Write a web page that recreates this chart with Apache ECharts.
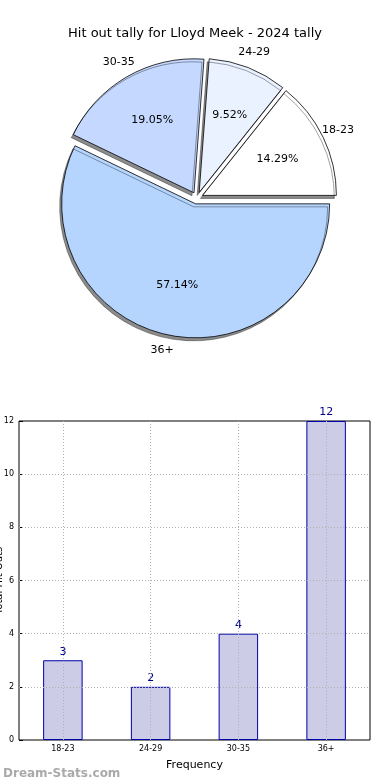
<!DOCTYPE html>
<html><head><meta charset="utf-8">
<script src="https://cdn.jsdelivr.net/npm/echarts@6/dist/echarts.min.js"></script>
<style>html,body{margin:0;padding:0;background:#fff}#c{width:390px;height:780px}</style>
</head><body><div id="c"></div>
<script>
const categories = ['18-23', '24-29', '30-35', '36+'];
const values = [3, 2, 4, 12];
const pieColors = ['#ffffff', '#eaf2ff', '#c5d8ff', '#b5d5ff'];
const yTicks = [0, 2, 4, 6, 8, 10, 12];

const chart = echarts.init(document.getElementById('c'), null, {renderer: 'canvas'});
const F = 'DejaVu Sans';
const pieCenter = [197, 198];
const R = 134;
const pieData = categories.map((c, i) => ({name: c, value: values[i], selected: true, itemStyle: {color: pieColors[i]}}));
const pieBase = {
  type: 'pie', center: pieCenter, startAngle: 0, clockwise: false,
  selectedMode: 'multiple', selectedOffset: 6, animation: false, silent: true,
  avoidLabelOverlap: false, labelLine: {show: false}
};
option = {
  animation: false,
  title: [
    {text: 'Hit out tally for Lloyd Meek - 2024 tally', left: 'center', top: 22,
     textStyle: {fontFamily: F, fontSize: 13, fontWeight: 'normal', color: '#000'}},
    {text: 'Dream-Stats.com', left: -2, top: 763,
     textStyle: {fontFamily: F, fontSize: 12, fontWeight: 'bold', color: '#aaaaaa'}}
  ],
  grid: {left: 19, right: 20, top: 421, bottom: 40, show: true, borderColor: '#000', borderWidth: 1,
         containLabel: false, outerBoundsMode: 'none'},
  xAxis: {
    type: 'category', data: categories, name: 'Frequency', nameLocation: 'middle', nameGap: 20,
    nameTextStyle: {fontFamily: F, fontSize: 11, color: '#000'},
    axisLine: {show: false}, axisTick: {show: false},
    axisLabel: {fontFamily: F, fontSize: 8, color: '#000', margin: 5},
    splitLine: {show: false}
  },
  yAxis: {
    type: 'value', min: 0, max: 12, interval: 2, name: 'Total Hit Outs', nameLocation: 'middle', nameGap: 15,
    nameMoveOverlap: false,
    nameTextStyle: {fontFamily: F, fontSize: 10, color: '#000'},
    axisLine: {show: false}, axisTick: {show: true, inside: true, length: 4, lineStyle: {color: '#000'}},
    axisLabel: {fontFamily: F, fontSize: 8, color: '#000', margin: 5},
    splitLine: {show: false}
  },
  series: [
    Object.assign({}, pieBase, {
      radius: [0, R], data: pieData, label: {show: false},
      itemStyle: {borderColor: '#000', borderWidth: 0.8, shadowBlur: 0, shadowOffsetX: -2, shadowOffsetY: 3, shadowColor: 'rgba(0,0,0,0.45)'}
    }),
    Object.assign({}, pieBase, {
      radius: [R * 0.2, R], z: 3,
      data: pieData.map(d => Object.assign({}, d, {itemStyle: {color: 'rgba(0,0,0,0)'}})),
      label: {show: true, position: 'inside', formatter: '{d}%', fontFamily: F, fontSize: 11, color: '#000'}
    }),
    Object.assign({}, pieBase, {
      radius: [R, R * 1.2], z: 3,
      data: pieData.map(d => Object.assign({}, d, {itemStyle: {color: 'rgba(0,0,0,0)'}})),
      label: {show: true, position: 'inside', formatter: '{b}', fontFamily: F, fontSize: 11, color: '#000'}
    }),
    {
      type: 'bar', data: values, barWidth: '45%',
      itemStyle: {color: '#ccccE6', borderColor: '#0000aa', borderWidth: 1},
      label: {show: true, position: 'top', fontFamily: F, fontSize: 11, color: '#00008b', distance: 3},
      markLine: {
        silent: true, symbol: 'none', label: {show: false},
        lineStyle: {color: '#b0b0b0', type: [1, 2], width: 1},
        data: categories.map(c => ({xAxis: c})).concat(yTicks.slice(1, -1).map(v => ({yAxis: v})))
      }
    }
  ]
};
chart.setOption(option);
</script></body></html>
